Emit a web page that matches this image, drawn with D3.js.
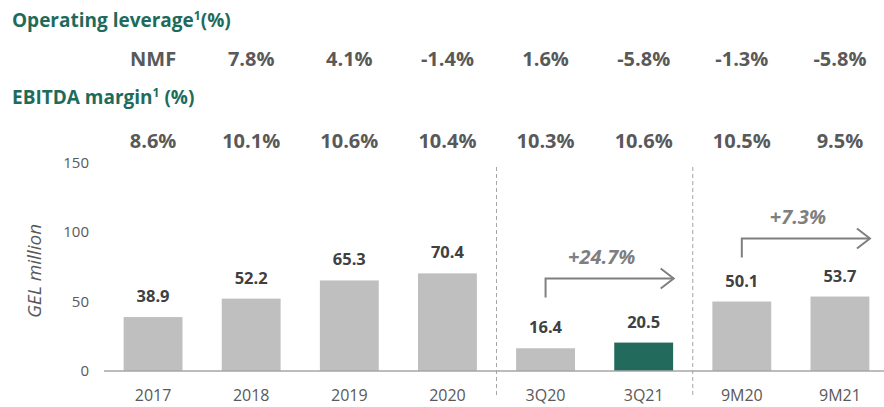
<!DOCTYPE html>
<html>
<head>
<meta charset="utf-8">
<script src="https://cdn.jsdelivr.net/npm/d3@7"></script>
<style>
  body { margin: 0; background: #fff; }
  svg { display: block; font-family: "Open Sans", sans-serif; }
</style>
</head>
<body>
<svg id="plot"></svg>
<script>
// chart data
categories = ["2017", "2018", "2019", "2020", "3Q20", "3Q21", "9M20", "9M21"];
ebitda = [38.9, 52.2, 65.3, 70.4, 16.4, 20.5, 50.1, 53.7];
opLeverage = ["NMF", "7.8%", "4.1%", "-1.4%", "1.6%", "-5.8%", "-1.3%", "-5.8%"];
ebitdaMargin = ["8.6%", "10.1%", "10.6%", "10.4%", "10.3%", "10.6%", "10.5%", "9.5%"];
yTicks = [0, 50, 100, 150];
growthLabels = [
    {from: "3Q20", to: "3Q21", text: "+24.7%"},
    {from: "9M20", to: "9M21", text: "+7.3%"}
];
highlight = "3Q21";

svgWidth = 884;
svgHeight = 407;
green = "#1e6b5c";
grey = "#595959";

function makeChart() {
    const svg = d3.select("#plot")
        .attr("width", svgWidth)
        .attr("height", svgHeight)
        .attr("viewBox", [0, 0, svgWidth, svgHeight]);

    x = d3.scaleBand()
        .domain(categories)
        .range([104, 889])
        .paddingInner(0.4)
        .paddingOuter(0.2);

    y = d3.scaleLinear()
        .domain([0, 150])
        .range([371, 163]);

    // y tick labels
    svg.append("g")
        .selectAll("text")
        .data(yTicks)
        .join("text")
        .attr("x", 89)
        .attr("y", d => y(d) + 5)
        .attr("text-anchor", "end")
        .attr("font-size", 15)
        .attr("fill", grey)
        .text(d => d);

    svg.append("text")
        .attr("transform", `translate(41,${y(75) + 4}) rotate(-90)`)
        .attr("text-anchor", "middle")
        .attr("font-size", 19)
        .attr("font-style", "italic")
        .attr("fill", grey)
        .text("GEL million");

    // dashed separators
    const seps = [
        (x("2020") + x.bandwidth() + x("3Q20")) / 2,
        (x("3Q21") + x.bandwidth() + x("9M20")) / 2
    ];
    svg.append("g")
        .selectAll("line")
        .data(seps)
        .join("line")
        .attr("x1", d => d).attr("x2", d => d)
        .attr("y1", 167).attr("y2", 397)
        .attr("stroke", "#a6a6a6")
        .attr("stroke-dasharray", "4,3");

    // bars
    svg.append("g")
        .selectAll("rect")
        .data(ebitda)
        .join("rect")
        .attr("x", (d, i) => x(categories[i]))
        .attr("y", d => y(d))
        .attr("width", x.bandwidth())
        .attr("height", d => y(0) - y(d))
        .attr("fill", (d, i) => categories[i] === highlight ? "#216a5c" : "#bfbfbf");

    // baseline
    svg.append("line")
        .attr("x1", 104).attr("x2", svgWidth)
        .attr("y1", y(0)).attr("y2", y(0))
        .attr("stroke", "#a6a6a6")
        .attr("stroke-width", 1.5);

    // value labels
    svg.append("g")
        .selectAll("text")
        .data(ebitda)
        .join("text")
        .attr("x", (d, i) => x(categories[i]) + x.bandwidth() / 2)
        .attr("y", d => y(d) - 15)
        .attr("text-anchor", "middle")
        .attr("font-size", 16.5)
        .attr("font-weight", "bold")
        .attr("fill", "#404040")
        .text(d => d.toFixed(1));

    // x labels
    svg.append("g")
        .selectAll("text")
        .data(categories)
        .join("text")
        .attr("x", d => x(d) + x.bandwidth() / 2)
        .attr("y", 401)
        .attr("text-anchor", "middle")
        .attr("font-size", 16)
        .attr("fill", grey)
        .text(d => d);

    // growth arrows
    growthLabels.forEach((g, k) => {
        const i0 = categories.indexOf(g.from);
        const i1 = categories.indexOf(g.to);
        const top = Math.max(ebitda[i0], ebitda[i1]);
        const x0 = x(g.from) + x.bandwidth() / 2;
        const x1 = x(g.to) + x.bandwidth() / 2 + 30;
        const yTop = y(top) - (k === 0 ? 64 : 58);
        const yBot = yTop + 19;
        svg.append("path")
            .attr("d", `M${x0},${yBot}V${yTop}H${x1}`)
            .attr("fill", "none")
            .attr("stroke", "#7f7f7f")
            .attr("stroke-width", 2);
        svg.append("path")
            .attr("d", `M${x1 - 13},${yTop - 10}L${x1},${yTop}L${x1 - 13},${yTop + 10}`)
            .attr("fill", "none")
            .attr("stroke", "#7f7f7f")
            .attr("stroke-width", 2);
        svg.append("text")
            .attr("x", (x0 + x1) / 2 - 8)
            .attr("y", yTop - 15)
            .attr("text-anchor", "middle")
            .attr("font-size", 20)
            .attr("font-weight", "bold")
            .attr("font-style", "italic")
            .attr("fill", "#7f7f7f")
            .text(g.text);
    });

    // header rows
    const t1 = svg.append("text")
        .attr("x", 12).attr("y", 27)
        .attr("font-size", 19)
        .attr("font-weight", "bold")
        .attr("fill", green);
    t1.append("tspan").text("Operating leverage");
    t1.append("tspan").attr("font-size", 12).attr("dy", -7).text("1");
    t1.append("tspan").attr("dy", 7).text("(%)");

    const t2 = svg.append("text")
        .attr("x", 12).attr("y", 104)
        .attr("font-size", 19)
        .attr("font-weight", "bold")
        .attr("fill", green);
    t2.append("tspan").text("EBITDA margin");
    t2.append("tspan").attr("font-size", 12).attr("dy", -7).text("1");
    t2.append("tspan").attr("dy", 7).text(" (%)");

    svg.append("g")
        .selectAll("text")
        .data(opLeverage)
        .join("text")
        .attr("x", (d, i) => x(categories[i]) + x.bandwidth() / 2)
        .attr("y", 66)
        .attr("text-anchor", "middle")
        .attr("font-size", 20)
        .attr("font-weight", "bold")
        .attr("fill", grey)
        .text(d => d);

    svg.append("g")
        .selectAll("text")
        .data(ebitdaMargin)
        .join("text")
        .attr("x", (d, i) => x(categories[i]) + x.bandwidth() / 2)
        .attr("y", 148)
        .attr("text-anchor", "middle")
        .attr("font-size", 20)
        .attr("font-weight", "bold")
        .attr("fill", grey)
        .text(d => d);
}

makeChart();
</script>
</body>
</html>
